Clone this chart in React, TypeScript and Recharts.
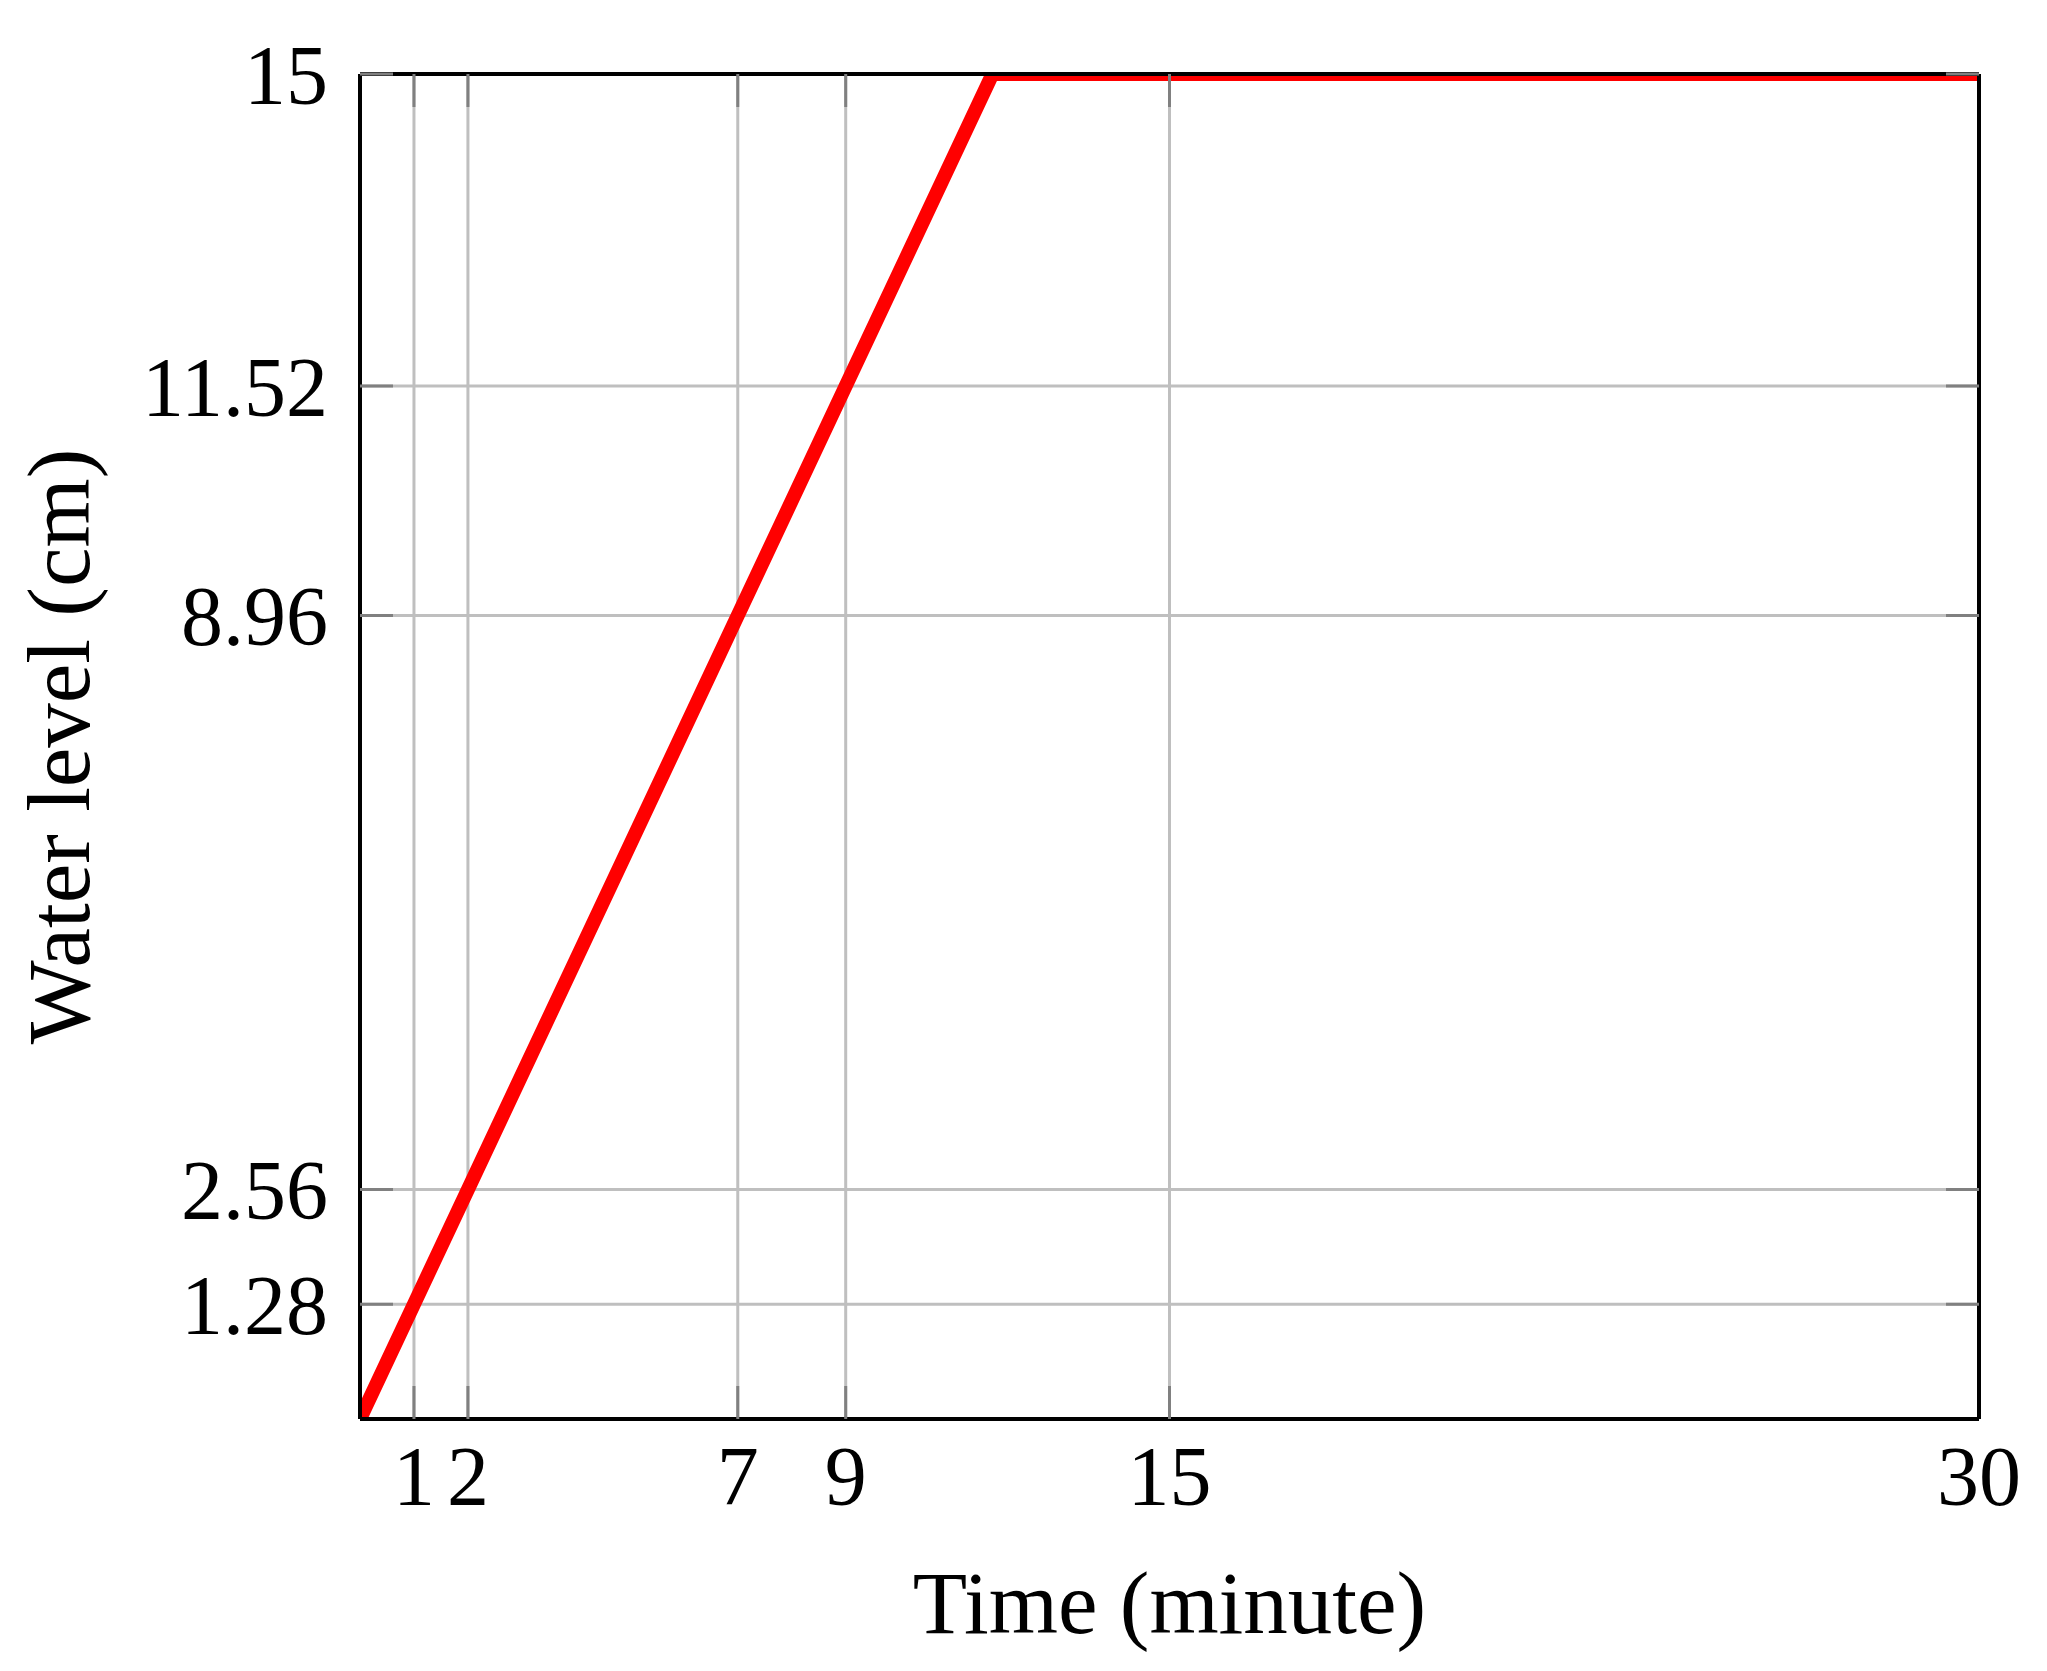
import { CartesianGrid, Label, Line, LineChart, XAxis, YAxis } from 'recharts';

// Tank fill: rises at ~1.28 cm/min until it tops out at 15 cm.
const times = [0, 1, 2, 7, 9, 11.72, 15, 30];
const levels = [0, 1.28, 2.56, 8.96, 11.52, 15, 15, 15];

const timeTicks = [1, 2, 7, 9, 15, 30];
const levelTicks = [1.28, 2.56, 8.96, 11.52, 15];

const FONT = '"Liberation Serif", "DejaVu Serif", serif';
const FONT_SIZE = 84;
const TITLE_SIZE = 89;
const GRID = '#bfbfbf';
const TICK = '#808080';
const FRAME = '#000000';
const RED = '#ff0000';

const data = times.map((t, i) => ({ time: t, level: levels[i] }));

// grid lines on the frame itself would paint over the black border
const gridX = timeTicks.filter((t) => t < 30);
const gridY = levelTicks.filter((v) => v < 15);

const tickStyle = { fill: '#000', fontSize: FONT_SIZE, fontFamily: FONT };
const frameLine = { stroke: FRAME, strokeWidth: 4 };
const tickLine = { stroke: TICK, strokeWidth: 3 };

// top/right axes keep their tick marks but show no labels
function NoLabel() {
  return <g />;
}

function XTitle(props: any) {
  const vb = props.viewBox;
  return (
    <text
      x={vb.x + vb.width / 2}
      y={vb.y + vb.height - 38}
      textAnchor="middle"
      fontFamily={FONT}
      fontSize={TITLE_SIZE}
      fill="#000"
    >
      Time (minute)
    </text>
  );
}

function YTitle(props: any) {
  const vb = props.viewBox;
  const x = vb.x + 89;
  const y = vb.y + vb.height / 2;
  return (
    <text
      x={x}
      y={y}
      transform={`rotate(-90, ${x}, ${y})`}
      textAnchor="middle"
      fontFamily={FONT}
      fontSize={TITLE_SIZE}
      fill="#000"
    >
      Water level (cm)
    </text>
  );
}

export default function App() {
  return (
    <div style={{ position: 'absolute', left: 0, top: 0, width: 2047, height: 1671, background: '#fff' }}>
      <LineChart
        width={2047}
        height={1671}
        data={data}
        margin={{ top: 73, right: 67, left: 0, bottom: 0 }}
      >
        <CartesianGrid
          stroke={GRID}
          strokeWidth={3}
          verticalValues={gridX}
          horizontalValues={gridY}
        />
        <XAxis
          dataKey="time"
          type="number"
          domain={[0, 30]}
          ticks={timeTicks}
          interval={0}
          allowDataOverflow
          height={252}
          tickSize={-33}
          tickMargin={59}
          tick={tickStyle}
          tickLine={tickLine}
          axisLine={frameLine}
        >
          <Label content={<XTitle />} />
        </XAxis>
        {/* top / right axes only close the frame and carry inward ticks */}
        <XAxis
          xAxisId="top"
          dataKey="time"
          orientation="top"
          type="number"
          domain={[0, 30]}
          ticks={timeTicks}
          interval={0}
          allowDataOverflow
          height={1}
          tickSize={-33}
          tick={<NoLabel />}
          tickLine={tickLine}
          axisLine={frameLine}
        />
        <YAxis
          type="number"
          domain={[0, 15]}
          ticks={levelTicks}
          interval={0}
          allowDataOverflow
          width={360}
          tickSize={-33}
          tickMargin={65}
          tick={tickStyle}
          tickLine={tickLine}
          axisLine={frameLine}
        >
          <Label content={<YTitle />} />
        </YAxis>
        <YAxis
          yAxisId="right"
          orientation="right"
          type="number"
          domain={[0, 15]}
          ticks={levelTicks}
          interval={0}
          allowDataOverflow
          width={1}
          tickSize={-33}
          tick={<NoLabel />}
          tickLine={tickLine}
          axisLine={frameLine}
        />
        <Line
          xAxisId="top"
          yAxisId="right"
          dataKey="level"
          stroke="none"
          dot={false}
          activeDot={false}
          legendType="none"
          isAnimationActive={false}
        />
        <Line
          dataKey="level"
          type="linear"
          stroke={RED}
          strokeWidth={14}
          dot={false}
          activeDot={false}
          isAnimationActive={false}
        />
      </LineChart>
    </div>
  );
}
